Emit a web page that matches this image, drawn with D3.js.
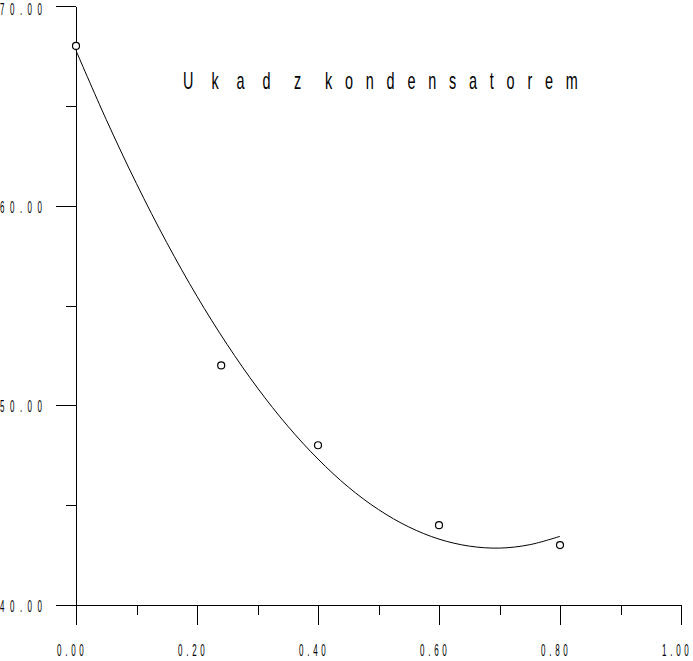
<!DOCTYPE html>
<html>
<head>
<meta charset="utf-8">
<script src="https://cdnjs.cloudflare.com/ajax/libs/d3/7.8.5/d3.min.js"></script>
<style>
  body { margin: 0; background: #fff; }
  text { font-family: "Liberation Sans", Arial, sans-serif; fill: #000; }
  .axis path, .axis line { stroke: #000; stroke-width: 1; shape-rendering: crispEdges; }
</style>
</head>
<body>
<script>
// chart values
var pointX = [0, 0.24, 0.40, 0.60, 0.80];
var pointY = [68, 52, 48, 44, 43];

// fitted line
var curveX = [0, 0.05, 0.10, 0.15, 0.20, 0.25, 0.30, 0.35, 0.40, 0.45, 0.50, 0.55, 0.60, 0.65, 0.70, 0.75, 0.80];
var curveY = [67.77, 64.31, 61.10, 58.15, 55.46, 53.04, 50.87, 48.96, 47.31, 45.91, 44.78, 43.91, 43.30, 42.95, 42.85, 43.02, 43.44];

var xMajor = [0, 0.2, 0.4, 0.6, 0.8, 1.0];
var xMinor = [0.1, 0.3, 0.5, 0.7, 0.9];
var xTickLabels = ["0.00", "0.20", "0.40", "0.60", "0.80", "1.00"];

var yMajor = [40, 50, 60, 70];
var yMinor = [45, 55, 65];
var yTickLabels = ["40.00", "50.00", "60.00", "70.00"];

var titleWords = ["Ukad", "z", "kondensatorem"];

// Set up chart parameters
var svgWidth = 693;
var svgHeight = 661;

var margin = {
  top: 6,
  left: 76
};
var width = 605;
var height = 599;

var svg = d3
  .select("body")
  .append("svg")
  .attr("width", svgWidth)
  .attr("height", svgHeight);

var chartGroup = svg.append("g")
  .attr("transform", `translate(${margin.left}, ${margin.top})`);

var xScale = d3.scaleLinear().domain([0, 1]).range([0, width]);
var yScale = d3.scaleLinear().domain([40, 70]).range([height, 0]);

// axes: long ticks on the majors, short ones between
chartGroup.append("g")
  .attr("class", "axis")
  .attr("transform", `translate(0, ${height})`)
  .call(d3.axisBottom(xScale).tickValues(xMajor).tickSize(20).tickSizeOuter(0).tickFormat(""));

chartGroup.append("g")
  .attr("class", "axis")
  .attr("transform", `translate(0, ${height})`)
  .call(d3.axisBottom(xScale).tickValues(xMinor).tickSize(10).tickFormat(""))
  .select(".domain").remove();

chartGroup.append("g")
  .attr("class", "axis")
  .call(d3.axisLeft(yScale).tickValues(yMajor).tickSize(20).tickSizeOuter(0).tickFormat(""));

chartGroup.append("g")
  .attr("class", "axis")
  .call(d3.axisLeft(yScale).tickValues(yMinor).tickSize(10).tickFormat(""))
  .select(".domain").remove();

chartGroup.selectAll(".tick text").remove();

// tick labels, narrow and spaced out
svg.selectAll(".ylab")
  .data(yMajor)
  .enter()
  .append("text")
  .attr("class", "ylab")
  .attr("transform", (d) => `translate(0, ${Math.max(margin.top + yScale(d) + 7, 15)}) scale(0.5, 1)`)
  .attr("font-size", 16)
  .attr("letter-spacing", 11)
  .text((d, i) => yTickLabels[i]);

svg.selectAll(".xlab")
  .data(xMajor)
  .enter()
  .append("text")
  .attr("class", "xlab")
  .attr("transform", (d) => `translate(${margin.left + xScale(d) - 19}, 656) scale(0.5, 1)`)
  .attr("font-size", 16)
  .attr("letter-spacing", 7.5)
  .text((d, i) => xTickLabels[i]);

// title, each word placed on its own, stretched letters
var sx = 0.6;
var wordX = [183, 294, 325];
var wordGap = [18, 13, 12.8];
var titleText = svg.append("text")
  .attr("transform", `translate(0, 89) scale(${sx}, 1)`)
  .attr("font-size", 24);

titleText.selectAll("tspan")
  .data(titleWords)
  .enter()
  .append("tspan")
  .attr("x", (d, i) => wordX[i] / sx)
  .attr("letter-spacing", (d, i) => wordGap[i] / sx)
  .text(d => d);

// fitted curve
var curveData = curveX.map((x, i) => [x, curveY[i]]);
var line = d3.line()
  .x(d => xScale(d[0]))
  .y(d => yScale(d[1]))
  .curve(d3.curveCatmullRom);

chartGroup.append("path")
  .datum(curveData)
  .attr("d", line)
  .attr("fill", "none")
  .attr("stroke", "#000")
  .attr("stroke-width", 1);

// measured points
chartGroup.selectAll("circle")
  .data(pointX)
  .enter()
  .append("circle")
  .attr("cx", d => xScale(d))
  .attr("cy", (d, i) => yScale(pointY[i]))
  .attr("r", 3.5)
  .attr("fill", "#fff")
  .attr("stroke", "#000")
  .attr("stroke-width", 1.2);
</script>
</body>
</html>
